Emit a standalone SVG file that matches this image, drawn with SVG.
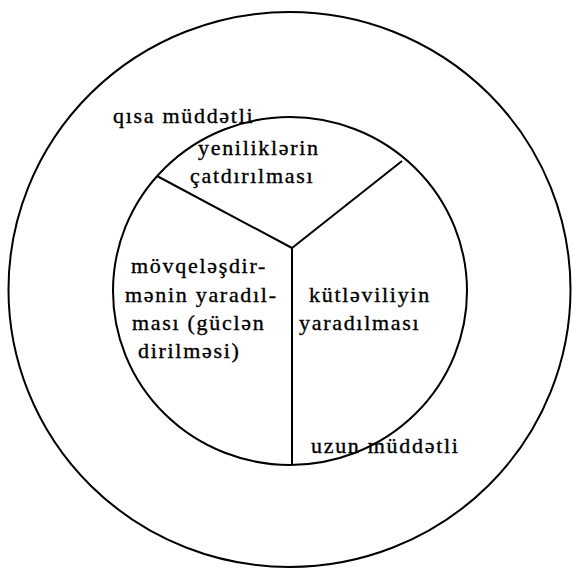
<svg xmlns="http://www.w3.org/2000/svg" width="573" height="569" viewBox="0 0 573 569">
<style>
.ln{fill:none;stroke:#000;stroke-width:2}
.t{font-family:"Liberation Serif","Times New Roman",serif;font-size:22px;letter-spacing:1.7px;fill:#000;stroke:#000;stroke-width:0.35}
</style>
<rect width="573" height="569" fill="#fff"/>
<g id="outer-circle"><ellipse class="ln" cx="289.5" cy="289.5" rx="281" ry="277.5"/></g>
<g id="inner-circle"><ellipse class="ln" cx="290" cy="291" rx="177" ry="174"/></g>
<g id="connectors">
<line class="ln" x1="292" y1="248" x2="157" y2="176"/>
<line class="ln" x1="292" y1="248" x2="402" y2="161"/>
<line class="ln" x1="292" y1="248" x2="292" y2="465"/>
</g>
<g id="label-short"><text class="t" x="113" y="123">qısa müddətli</text></g>
<g id="node-news"><text class="t" x="198" y="155">yeniliklərin</text><text class="t" x="190" y="183">çatdırılması</text></g>
<g id="node-position"><text class="t" x="131" y="273">mövqeləşdir-</text><text class="t" x="125" y="302">mənin yaradıl-</text><text class="t" x="132" y="330">ması (güclən</text><text class="t" x="138" y="358">dirilməsi)</text></g>
<g id="node-mass"><text class="t" x="309" y="302">kütləviliyin</text><text class="t" x="299" y="330">yaradılması</text></g>
<g id="label-long"><text class="t" x="311" y="453">uzun müddətli</text></g>
</svg>
